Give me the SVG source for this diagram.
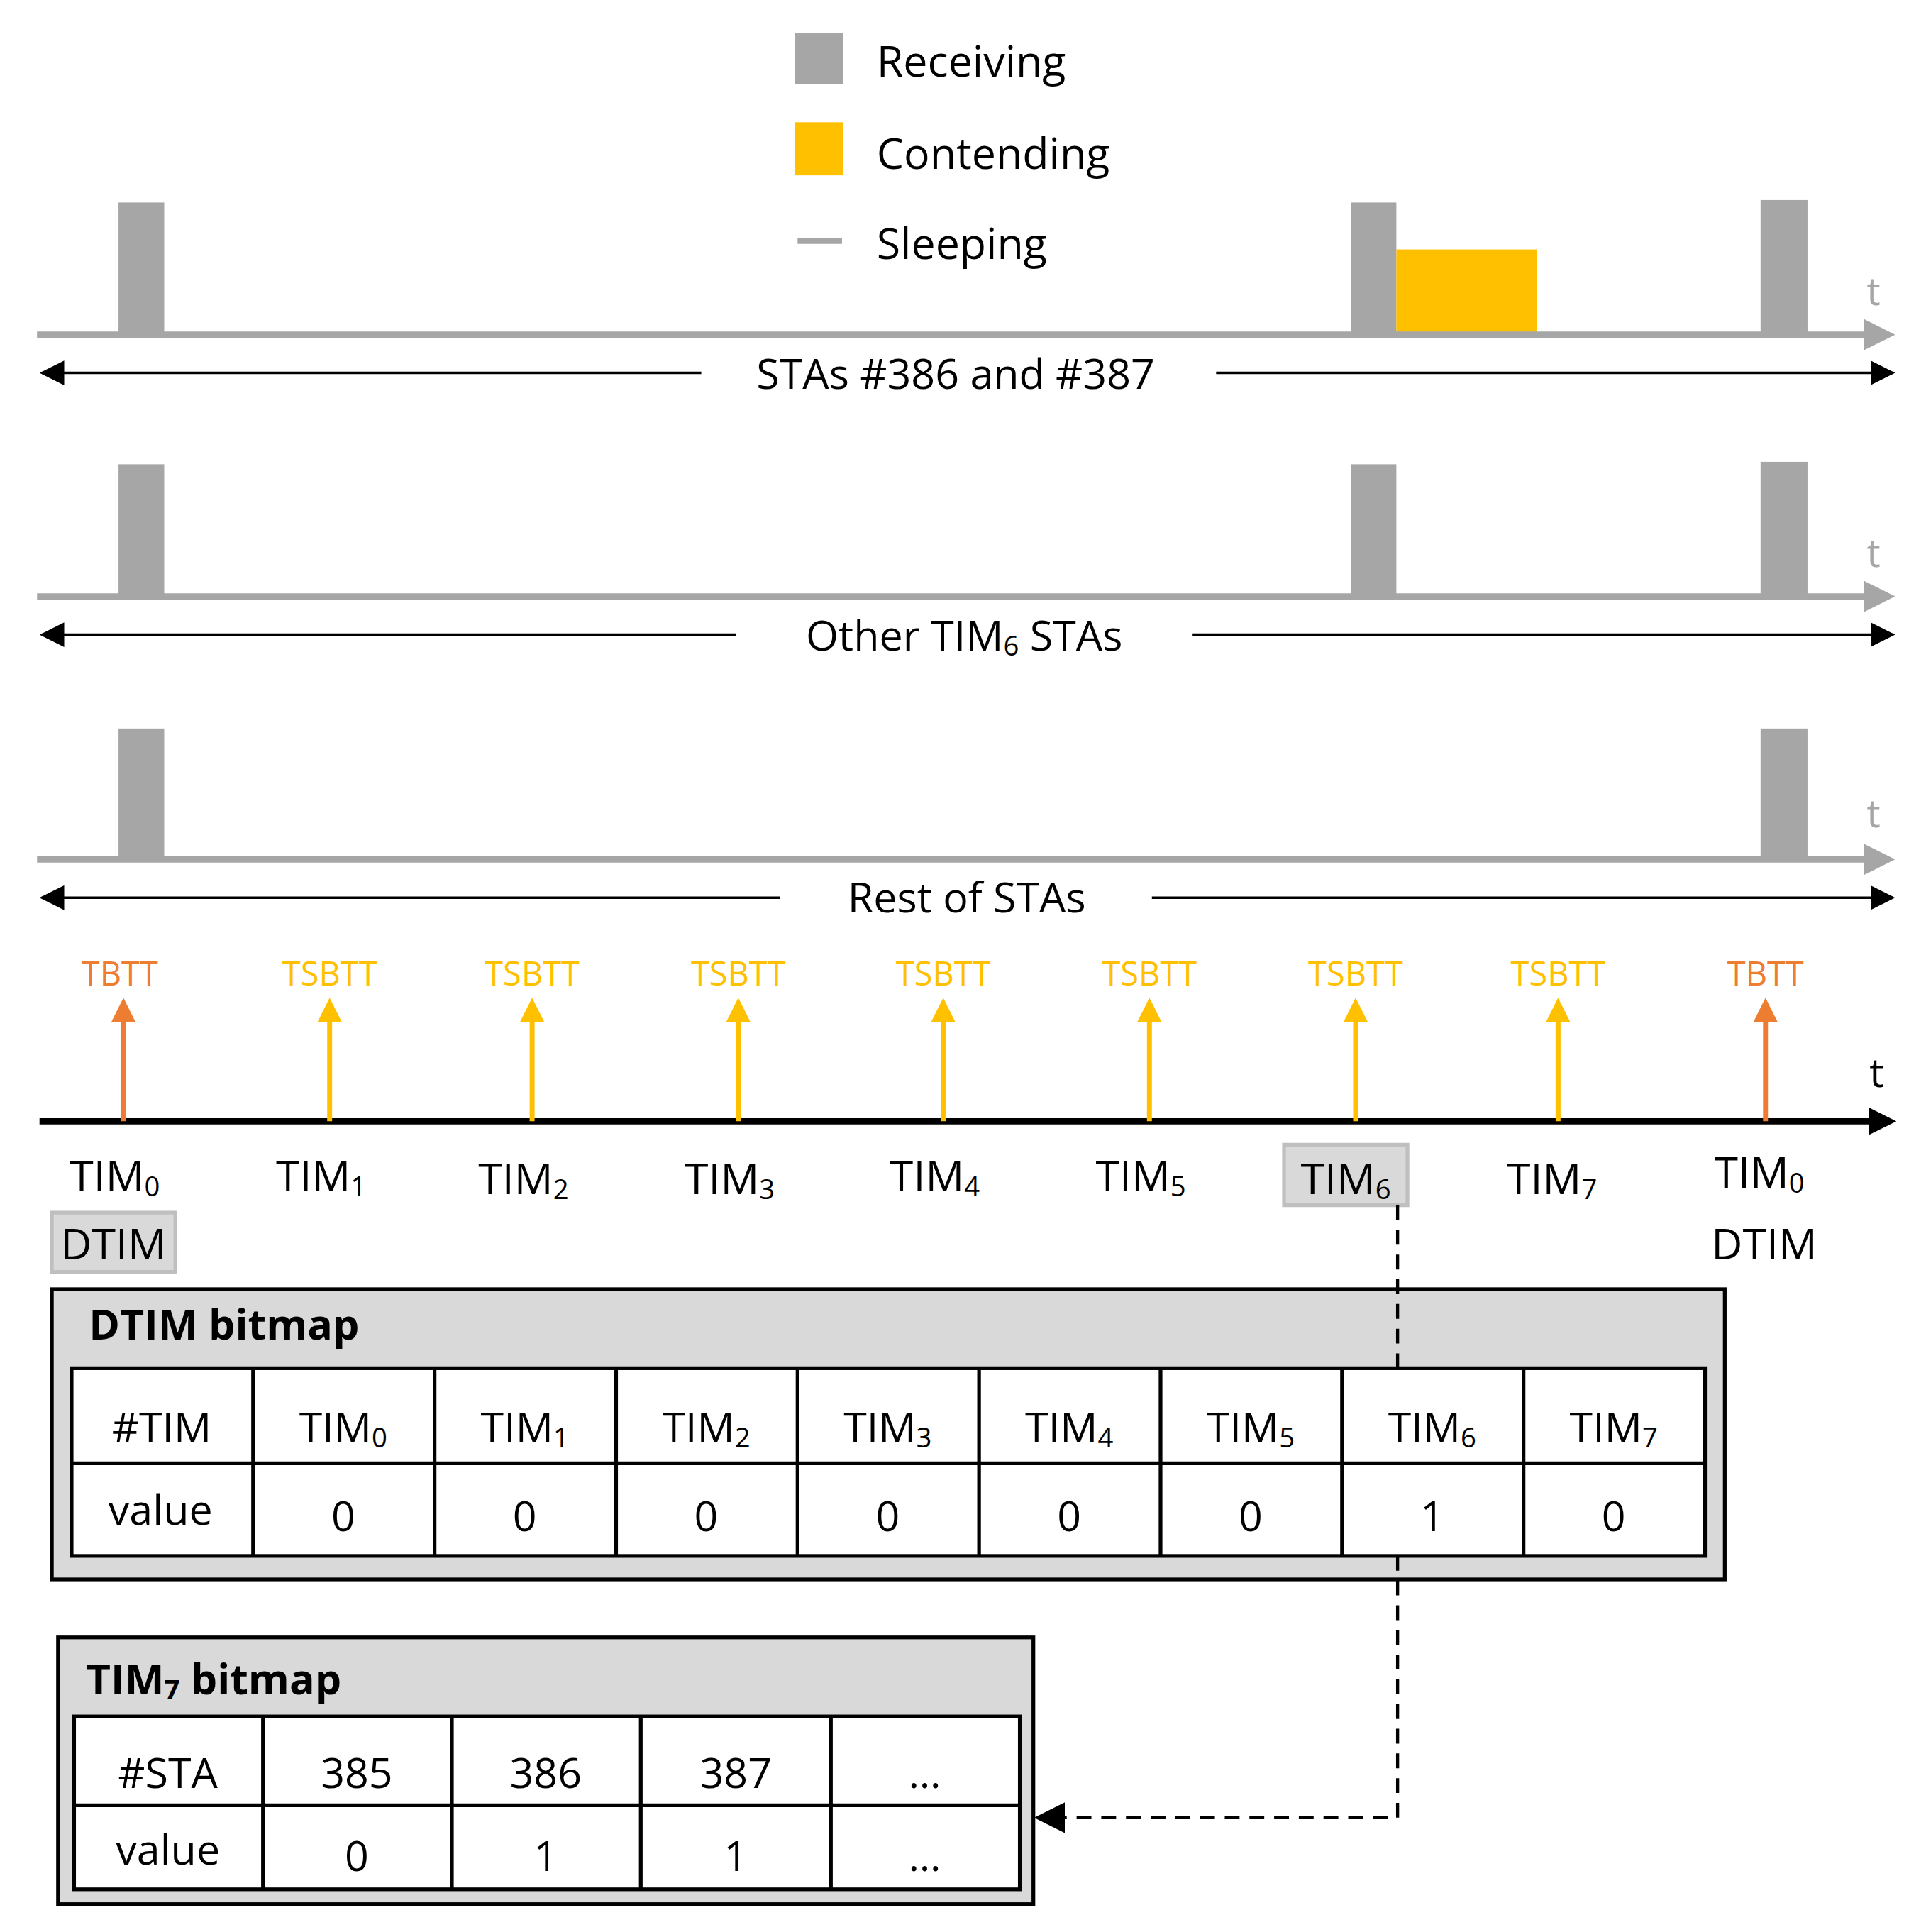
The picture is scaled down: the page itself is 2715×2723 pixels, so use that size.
<svg xmlns="http://www.w3.org/2000/svg" width="2715" height="2723" viewBox="0 0 2715 2723">
<defs>
<style>
text{font-family:"Open Sans","Liberation Sans",sans-serif;fill:#000}
.lg{font-size:35px}
.lb{font-size:34px;text-anchor:middle}
.gt{font-size:31px;fill:#a6a6a6}
.ev{font-size:27px;text-anchor:middle}
.or{fill:#ED7D31}
.ye{fill:#FFC000}
.tim{font-size:35px;text-anchor:middle}
.cell{font-size:34px;text-anchor:middle}
.ttl{font-size:34px;font-weight:bold}
.sub{font-size:22px;baseline-shift:-18%}
.rcv{fill:#a6a6a6}
.sl{stroke:#a6a6a6;stroke-width:5}
.dbl{stroke:#000;stroke-width:2}
.tb{fill:#fff;stroke:#000;stroke-width:3}
</style>
<marker id="ga" viewBox="0 0 10 10" refX="2" refY="5" markerWidth="5" markerHeight="5" orient="auto" markerUnits="strokeWidth"><path d="M0,0L10,5L0,10z" fill="#a6a6a6"/></marker>
<marker id="ba" viewBox="0 0 10 10" refX="2" refY="5" markerWidth="4.5" markerHeight="4.5" orient="auto" markerUnits="strokeWidth"><path d="M0,0L10,5L0,10z" fill="#000"/></marker>
<marker id="da" viewBox="0 0 10 10" refX="9" refY="5" markerWidth="10" markerHeight="10" orient="auto-start-reverse" markerUnits="strokeWidth"><path d="M0,0L10,5L0,10z" fill="#000"/></marker>
<marker id="oa" viewBox="0 0 10 10" refX="5" refY="5" markerWidth="5" markerHeight="5" orient="auto" markerUnits="strokeWidth"><path d="M0,0L10,5L0,10z" fill="#ED7D31"/></marker>
<marker id="ya" viewBox="0 0 10 10" refX="5" refY="5" markerWidth="5" markerHeight="5" orient="auto" markerUnits="strokeWidth"><path d="M0,0L10,5L0,10z" fill="#FFC000"/></marker>
</defs>
<rect width="2715" height="2723" fill="#fff"/>
<g transform="scale(1.7404)">
<g id="legend">
<rect x="644" y="27" width="39" height="41" class="rcv"/>
<text x="710" y="62" class="lg">Receiving</text>
<rect x="644" y="99" width="39" height="43" fill="#FFC000"/>
<text x="710" y="137" class="lg">Contending</text>
<line x1="646" y1="195" x2="682" y2="195" class="sl"/>
<text x="710" y="210" class="lg">Sleeping</text>
</g>
<g id="row1">
<rect x="96" y="164" width="37" height="107" class="rcv"/>
<rect x="1094" y="164" width="37" height="107" class="rcv"/>
<rect x="1131" y="202" width="114" height="71" fill="#FFC000"/>
<rect x="1426" y="162" width="38" height="109" class="rcv"/>
<text x="1512" y="247" class="gt">t</text>
<text x="774" y="315" class="lb">STAs #386 and #387</text>
</g>
<g id="row2">
<rect x="96" y="376" width="37" height="107" class="rcv"/>
<rect x="1094" y="376" width="37" height="107" class="rcv"/>
<rect x="1426" y="374" width="38" height="109" class="rcv"/>
<text x="1512" y="459" class="gt">t</text>
<text x="781" y="527" class="lb">Other TIM<tspan class="sub">6</tspan> STAs</text>
</g>
<g id="row3">
<rect x="96" y="590" width="37" height="106" class="rcv"/>
<rect x="1426" y="590" width="38" height="106" class="rcv"/>
<text x="1512" y="670" class="gt">t</text>
<text x="783" y="739" class="lb">Rest of STAs</text>
</g>
<g id="events" class="ev">
<text x="97" y="798" class="or">TBTT</text>
<text x="267" y="798" class="ye">TSBTT</text>
<text x="431" y="798" class="ye">TSBTT</text>
<text x="598" y="798" class="ye">TSBTT</text>
<text x="764" y="798" class="ye">TSBTT</text>
<text x="931" y="798" class="ye">TSBTT</text>
<text x="1098" y="798" class="ye">TSBTT</text>
<text x="1262" y="798" class="ye">TSBTT</text>
<text x="1430" y="798" class="or">TBTT</text>
<text x="1520" y="880" style="font-size:33px">t</text>
</g>
<g id="timlabels" class="tim">
<rect x="1040" y="927" width="100" height="49" fill="#d9d9d9" stroke="#bfbfbf" stroke-width="3"/>
<rect x="42" y="982" width="100" height="48" fill="#d9d9d9" stroke="#bfbfbf" stroke-width="3"/>
<text x="93" y="965">TIM<tspan class="sub">0</tspan></text>
<text x="260" y="965">TIM<tspan class="sub">1</tspan></text>
<text x="424" y="967">TIM<tspan class="sub">2</tspan></text>
<text x="591" y="967">TIM<tspan class="sub">3</tspan></text>
<text x="757" y="965">TIM<tspan class="sub">4</tspan></text>
<text x="924" y="965">TIM<tspan class="sub">5</tspan></text>
<text x="1090" y="967">TIM<tspan class="sub">6</tspan></text>
<text x="1257" y="967">TIM<tspan class="sub">7</tspan></text>
<text x="1425" y="962">TIM<tspan class="sub">0</tspan></text>
<text x="92" y="1020">DTIM</text>
<text x="1429" y="1020">DTIM</text>
</g>
<g id="dtim-bitmap">
<rect x="42" y="1044" width="1355" height="235" fill="#d9d9d9" stroke="#000" stroke-width="3"/>
<text x="72" y="1085" class="ttl">DTIM bitmap</text>
<rect x="58" y="1108" width="1323" height="152" class="tb"/>
<path d="M58 1185H1381M205 1108V1260M352 1108V1260M499 1108V1260M646 1108V1260M793 1108V1260M940 1108V1260M1087 1108V1260M1234 1108V1260" stroke="#000" stroke-width="3"/>
<g class="cell">
<text x="131" y="1168">#TIM</text>
<text x="278" y="1168">TIM<tspan class="sub">0</tspan></text>
<text x="425" y="1168">TIM<tspan class="sub">1</tspan></text>
<text x="572" y="1168">TIM<tspan class="sub">2</tspan></text>
<text x="719" y="1168">TIM<tspan class="sub">3</tspan></text>
<text x="866" y="1168">TIM<tspan class="sub">4</tspan></text>
<text x="1013" y="1168">TIM<tspan class="sub">5</tspan></text>
<text x="1160" y="1168">TIM<tspan class="sub">6</tspan></text>
<text x="1307" y="1168">TIM<tspan class="sub">7</tspan></text>
<text x="130" y="1235">value</text>
<text x="278" y="1240">0</text><text x="425" y="1240">0</text><text x="572" y="1240">0</text><text x="719" y="1240">0</text><text x="866" y="1240">0</text><text x="1013" y="1240">0</text><text x="1160" y="1240">1</text><text x="1307" y="1240">0</text>
</g>
</g>
<g id="tim7-bitmap">
<rect x="47" y="1326" width="790" height="216" fill="#d9d9d9" stroke="#000" stroke-width="3"/>
<text x="70" y="1372" class="ttl">TIM<tspan class="sub">7</tspan> bitmap</text>
<rect x="60" y="1390" width="766" height="140" class="tb"/>
<path d="M60 1462H826M213 1390V1530M366 1390V1530M519 1390V1530M673 1390V1530" stroke="#000" stroke-width="3"/>
<g class="cell">
<text x="136" y="1448">#STA</text><text x="289" y="1448">385</text><text x="442" y="1448">386</text><text x="596" y="1448">387</text><text x="749" y="1448">…</text>
<text x="136" y="1510">value</text><text x="289" y="1515">0</text><text x="442" y="1515">1</text><text x="596" y="1515">1</text><text x="749" y="1515">…</text>
</g>
</g>
<g id="connectors">
<line x1="30" y1="271" x2="1515" y2="271" class="sl" marker-end="url(#ga)"/>
<line x1="30" y1="483" x2="1515" y2="483" class="sl" marker-end="url(#ga)"/>
<line x1="30" y1="696" x2="1515" y2="696" class="sl" marker-end="url(#ga)"/>
<line x1="34" y1="302" x2="568" y2="302" class="dbl" marker-start="url(#da)"/>
<line x1="985" y1="302" x2="1533" y2="302" class="dbl" marker-end="url(#da)"/>
<line x1="34" y1="514" x2="596" y2="514" class="dbl" marker-start="url(#da)"/>
<line x1="966" y1="514" x2="1533" y2="514" class="dbl" marker-end="url(#da)"/>
<line x1="34" y1="727" x2="632" y2="727" class="dbl" marker-start="url(#da)"/>
<line x1="933" y1="727" x2="1533" y2="727" class="dbl" marker-end="url(#da)"/>
<line x1="32" y1="908" x2="1518" y2="908" stroke="#000" stroke-width="5" marker-end="url(#ba)"/>
<g stroke-width="4">
<line x1="100" y1="908" x2="100" y2="818" stroke="#ED7D31" marker-end="url(#oa)"/>
<line x1="267" y1="908" x2="267" y2="818" stroke="#FFC000" marker-end="url(#ya)"/>
<line x1="431" y1="908" x2="431" y2="818" stroke="#FFC000" marker-end="url(#ya)"/>
<line x1="598" y1="908" x2="598" y2="818" stroke="#FFC000" marker-end="url(#ya)"/>
<line x1="764" y1="908" x2="764" y2="818" stroke="#FFC000" marker-end="url(#ya)"/>
<line x1="931" y1="908" x2="931" y2="818" stroke="#FFC000" marker-end="url(#ya)"/>
<line x1="1098" y1="908" x2="1098" y2="818" stroke="#FFC000" marker-end="url(#ya)"/>
<line x1="1262" y1="908" x2="1262" y2="818" stroke="#FFC000" marker-end="url(#ya)"/>
<line x1="1430" y1="908" x2="1430" y2="818" stroke="#ED7D31" marker-end="url(#oa)"/>
</g>
<path d="M1132 976V1108" fill="none" stroke="#000" stroke-width="2.5" stroke-dasharray="12 8"/>
<path d="M1132 1260V1472H840" fill="none" stroke="#000" stroke-width="2.5" stroke-dasharray="12 8" marker-end="url(#da)"/>
</g>
</g>
</svg>
